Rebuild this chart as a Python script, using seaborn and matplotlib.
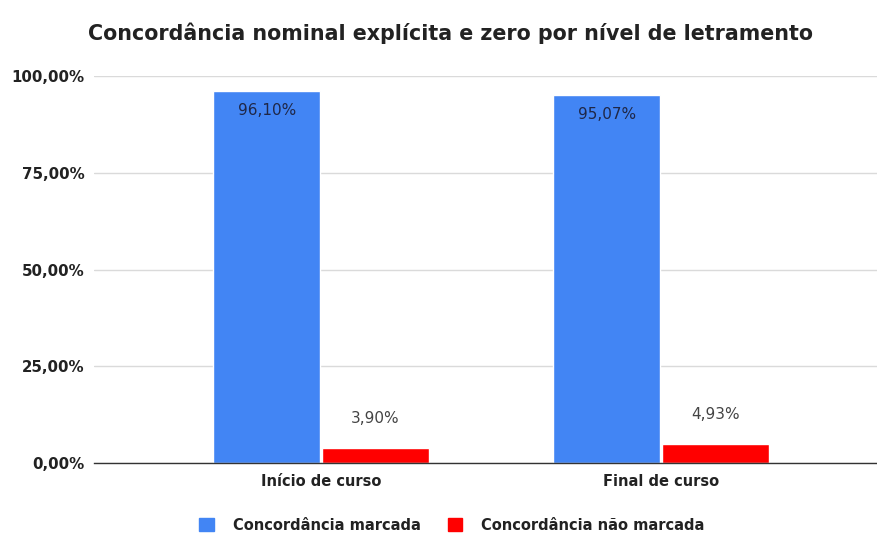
import matplotlib
matplotlib.use("Agg")
import matplotlib.pyplot as plt
import seaborn as sns
import pandas as pd
from matplotlib.ticker import FixedLocator, FuncFormatter

categories = ["Início de curso", "Final de curso"]
series_names = ["Concordância marcada", "Concordância não marcada"]
marcada = [96.10, 95.07]
nao_marcada = [3.90, 4.93]
y_ticks = [0, 25, 50, 75, 100]

colors = ["#4285F4", "#FF0000"]

df = pd.DataFrame({
    "categoria": categories * 2,
    "serie": [series_names[0]] * len(categories) + [series_names[1]] * len(categories),
    "valor": marcada + nao_marcada,
})

sns.set_theme(style="white")
plt.rcParams["font.family"] = ["DejaVu Sans"]

fig = plt.figure(figsize=(8.78, 5.36), dpi=100)
ax = fig.add_axes([94 / 878, (536 - 463) / 536, (878 - 94) / 878, (463 - 76) / 536])

sns.barplot(data=df, x="categoria", y="valor", hue="serie", palette=colors,
            width=0.64, gap=0.02, ax=ax, legend=False, saturation=1)

ax.set_ylim(0, 100)
ax.set_xlim(-0.668, 1.638)
ax.yaxis.set_major_locator(FixedLocator(y_ticks))
ax.yaxis.set_major_formatter(FuncFormatter(lambda v, p: f"{v:.2f}%".replace(".", ",")))
ax.grid(axis="y", color="#DADADA", linewidth=1)
ax.set_axisbelow(True)
for side in ["top", "right", "left"]:
    ax.spines[side].set_visible(False)
ax.spines["bottom"].set_color("#333333")
ax.spines["bottom"].set_linewidth(1)
ax.set_xlabel("")
ax.set_ylabel("")
ax.tick_params(axis="y", length=0, pad=7, labelsize=10.8, colors="#222222")
ax.tick_params(axis="x", length=0, pad=8, labelsize=10.5, colors="#222222")
for t in ax.get_yticklabels() + ax.get_xticklabels():
    t.set_fontweight("bold")

# value labels: inside the top of the tall bars, above the short ones
for container, vals in zip(ax.containers, [marcada, nao_marcada]):
    for bar, v in zip(container, vals):
        cx = bar.get_x() + bar.get_width() / 2
        txt = f"{v:.2f}%".replace(".", ",")
        if v > 50:
            ax.annotate(txt, (cx, v), xytext=(0, -14), textcoords="offset points",
                        ha="center", va="center", fontsize=11, color="#1f2747")
        else:
            ax.annotate(txt, (cx, v), xytext=(0, 21), textcoords="offset points",
                        ha="center", va="center", fontsize=11, color="#444444")

fig.text(451 / 878, 1 - 33 / 536, "Concordância nominal explícita e zero por nível de letramento",
         ha="center", va="center", fontsize=14.9, fontweight="bold", color="#222222")

handles = [plt.Rectangle((0, 0), 1, 1, color=c) for c in colors]
fig.legend(handles, series_names, loc="center", bbox_to_anchor=(452 / 878, 1 - 525 / 536),
           ncol=2, frameon=False, handlelength=1.0, handleheight=1.0,
           columnspacing=1.85, handletextpad=1.3, borderpad=0, borderaxespad=0,
           prop={"size": 10.5, "weight": "bold"}, labelcolor="#222222")

fig.savefig("out.png", dpi=100)
